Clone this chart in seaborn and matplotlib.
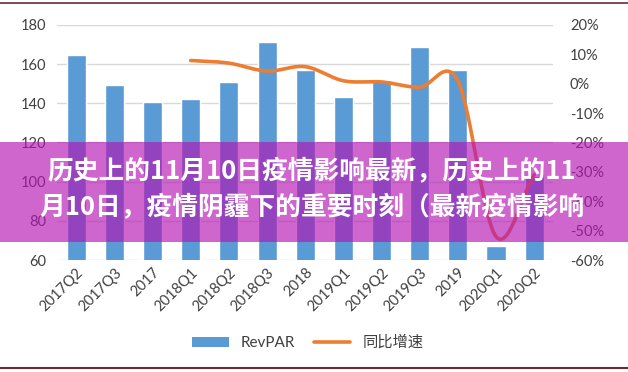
import numpy as np
import pandas as pd
import matplotlib
matplotlib.use('Agg')
import matplotlib.pyplot as plt
import seaborn as sns
from matplotlib.lines import Line2D
from matplotlib.patches import Patch, Rectangle

# ── data ─────────────────────────────────────────────────────────
quarters = ['2017Q2', '2017Q3', '2017', '2018Q1', '2018Q2', '2018Q3', '2018',
            '2019Q1', '2019Q2', '2019Q3', '2019', '2020Q1', '2020Q2']
revpar = [164.5, 149.2, 140.7, 142.0, 151.0, 171.3, 157.0,
          143.2, 151.8, 168.9, 157.0, 67.2, 103.0]
growth_quarters = ['2018Q1', '2018Q2', '2018Q3', '2018', '2019Q1', '2019Q2',
                   '2019Q3', '2019', '2020Q1', '2020Q2']
growth = [7.9, 7.0, 4.3, 5.8, 1.0, 0.6, -1.2, 1.0, -52.0, -31.0]  # %

title_lines = ['历史上的11月10日疫情影响最新，历史上的11',
               '月10日，疫情阴霾下的重要时刻（最新疫情影响']

BLUE = '#5B9BD5'
ORANGE = '#ED7D31'
GRID = '#D9D9D9'
TXT = '#404040'


def smooth(xv, yv, n=30):
    """Catmull-Rom style curve through the points (like Excel's smoothed line)"""
    xv = np.asarray(xv, float)
    yv = np.asarray(yv, float)
    m = np.gradient(yv, xv)
    xs, ys = [], []
    for i in range(len(xv) - 1):
        t = np.linspace(0, 1, n, endpoint=False)
        h = xv[i + 1] - xv[i]
        h00 = 2 * t**3 - 3 * t**2 + 1
        h10 = t**3 - 2 * t**2 + t
        h01 = -2 * t**3 + 3 * t**2
        h11 = t**3 - t**2
        xs.append(xv[i] + t * h)
        ys.append(h00 * yv[i] + h10 * h * m[i] + h01 * yv[i + 1] + h11 * h * m[i + 1])
    xs.append([xv[-1]])
    ys.append([yv[-1]])
    return np.concatenate(xs), np.concatenate(ys)


sns.set_style('white')
plt.rcParams['font.family'] = ['Lato', 'Noto Sans CJK SC', 'DejaVu Sans']

fig = plt.figure(figsize=(6.28, 3.72), dpi=100)
ax = fig.add_axes([0.091, 0.301, 0.790, 0.632])

df = pd.DataFrame({'quarter': quarters, 'revpar': revpar})
sns.barplot(data=df, x='quarter', y='revpar', color=BLUE, width=0.5,
            saturation=1, ax=ax, zorder=2)
ax.set_ylim(60, 180)
ax.set_yticks(range(60, 181, 20))
ax.set_xlim(-0.5, len(quarters) - 0.5)
ax.set_xlabel('')
ax.set_ylabel('')
ax.grid(axis='y', color=GRID, linewidth=1, zorder=0)
ax.set_axisbelow(True)
for s in ax.spines.values():
    s.set_visible(False)
ax.tick_params(axis='both', length=0, labelsize=10.5, colors=TXT, pad=8)
ax.set_xticks(range(len(quarters)))
ax.set_xticklabels(quarters, rotation=45, ha='right', rotation_mode='anchor')
ax.tick_params(axis='x', pad=4)

ax2 = ax.twinx()
gx = [quarters.index(q) for q in growth_quarters]
sx, sy = smooth(gx, growth)
sns.lineplot(x=sx, y=sy, ax=ax2, color=ORANGE, linewidth=2.6, sort=False)
ax2.set_ylim(-60, 20)
ax2.set_yticks(range(-60, 21, 10))
ax2.set_yticklabels([f'{v}%' for v in range(-60, 21, 10)])
ax2.tick_params(axis='y', length=0, labelsize=10.5, colors=TXT, pad=12)
for s in ax2.spines.values():
    s.set_visible(False)
ax2.grid(False)

handles = [Patch(facecolor=BLUE, edgecolor='none'),
           Line2D([0], [0], color=ORANGE, linewidth=2.6)]
fig.legend(handles, ['RevPAR', '同比增速'], loc='center', ncol=2,
           bbox_to_anchor=(0.49, 0.078), frameon=False, fontsize=11,
           handlelength=2.4, columnspacing=1.2, labelcolor=TXT)

# frame lines at top and bottom
fig.add_artist(Line2D([0, 1], [0.991, 0.991], color='#6B2A3A', linewidth=1.2))
fig.add_artist(Line2D([0, 1], [0.011, 0.011], color='#6B2A3A', linewidth=1.5))

# overlay banner with headline
fig.patches.append(Rectangle((0, 1 - 242 / 372), 1, 100 / 372, transform=fig.transFigure,
                             facecolor='#B414B4', alpha=0.65, edgecolor='none', zorder=5))
fig.text(0.497, 1 - 172 / 372, title_lines[0], ha='center', va='center', color='white',
         fontsize=18.5, fontweight='bold', family=['Noto Sans CJK SC', 'DejaVu Sans'], zorder=6)
fig.text(0.497, 1 - 208 / 372, title_lines[1], ha='center', va='center', color='white',
         fontsize=18.5, fontweight='bold', family=['Noto Sans CJK SC', 'DejaVu Sans'], zorder=6)

fig.savefig('out.png', dpi=100)
